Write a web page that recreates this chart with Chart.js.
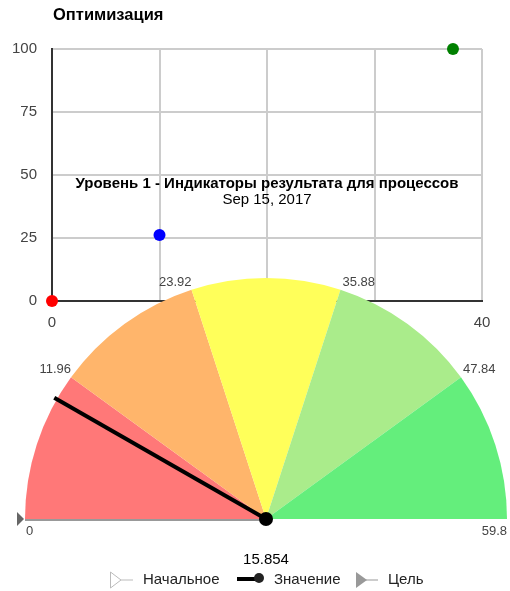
<!DOCTYPE html>
<html>
<head>
<meta charset="utf-8">
<script src="https://cdn.jsdelivr.net/npm/chart.js@4.4.0/dist/chart.umd.min.js"></script>
<style>
  html, body { margin: 0; padding: 0; background: #fff; }
  #wrap { position: relative; width: 510px; height: 591px; }
  #wrap div { position: absolute; left: 0; top: 0; }
</style>
</head>
<body>
<div id="wrap">
  <div style="width:510px;height:340px"><canvas id="scatterChart"></canvas></div>
  <div style="width:510px;height:591px"><canvas id="gaugeChart"></canvas></div>
</div>
<script>
// scatter points
const pointX = [0, 10, 37.3];
const pointY = [0, 26.2, 100];
const pointColors = ['#ff0000', '#0000ff', '#008000'];

// gauge bands (boundaries) and value
const bandEdges = [0, 11.96, 23.92, 35.88, 47.84, 59.8];
const bandColors = ['#ff7878', '#ffb56b', '#ffff5a', '#aaec8b', '#64ee7c'];
const needleAt = 9.9;
const valueLabel = '15.854';
const legendNames = ['Начальное', 'Значение', 'Цель'];

const FONT = '"Liberation Sans", Arial, sans-serif';

const scatterTitle = {
  id: 'scatterTitle',
  afterDraw(chart) {
    const ctx = chart.ctx;
    ctx.save();
    ctx.font = 'bold 16.5px ' + FONT;
    ctx.fillStyle = '#000';
    ctx.textBaseline = 'middle';
    ctx.fillText('Оптимизация', chart.chartArea.left + 1, 15);
    ctx.restore();
  }
};

new Chart(document.getElementById('scatterChart'), {
  type: 'scatter',
  data: {
    datasets: [{
      data: pointX.map((x, i) => ({x: x, y: pointY[i]})),
      pointBackgroundColor: pointColors,
      pointBorderWidth: 0,
      pointRadius: 6,
      clip: false
    }]
  },
  options: {
    responsive: true,
    maintainAspectRatio: false,
    animation: false,
    layout: {padding: {top: 49, right: 28, left: 0, bottom: 0}},
    plugins: {legend: {display: false}, tooltip: {enabled: false}},
    scales: {
      x: {
        min: 0, max: 40,
        ticks: {stepSize: 10, padding: 13, color: '#444', font: {family: FONT, size: 15}},
        grid: {color: '#ccc', lineWidth: 2, drawTicks: false},
        border: {color: '#333', width: 2},
        afterFit(s) { s.height = 39; }
      },
      y: {
        min: 0, max: 100,
        ticks: {stepSize: 25, padding: 15, color: '#444', font: {family: FONT, size: 15}},
        grid: {color: '#ccc', lineWidth: 2, drawTicks: false},
        border: {color: '#333', width: 2},
        afterFit(s) { s.width = 52; }
      }
    }
  },
  plugins: [scatterTitle]
});

const bandSizes = bandEdges.slice(1).map((e, i) => e - bandEdges[i]);
const gaugeMax = bandEdges[bandEdges.length - 1];

const gaugeExtras = {
  id: 'gaugeExtras',
  afterDraw(chart) {
    const ctx = chart.ctx;
    const arc = chart.getDatasetMeta(0).data[0];
    const cx = arc.x, cy = arc.y, r = arc.outerRadius;
    ctx.save();

    // chart title
    ctx.fillStyle = '#000';
    ctx.textAlign = 'center';
    ctx.textBaseline = 'middle';
    ctx.font = 'bold 15px ' + FONT;
    ctx.fillText('Уровень 1 - Индикаторы результата для процессов', 267, 184);
    ctx.font = '15px ' + FONT;
    ctx.fillText('Sep 15, 2017', 267, 200);

    // baseline under the low half
    ctx.strokeStyle = '#999';
    ctx.lineWidth = 2;
    ctx.beginPath();
    ctx.moveTo(cx - r, cy + 1);
    ctx.lineTo(cx, cy + 1);
    ctx.stroke();

    // target marker at start
    ctx.fillStyle = '#666';
    ctx.beginPath();
    ctx.moveTo(cx - r - 8, cy - 7);
    ctx.lineTo(cx - r - 1, cy);
    ctx.lineTo(cx - r - 8, cy + 7);
    ctx.closePath();
    ctx.fill();

    // band edge labels
    ctx.font = '13px ' + FONT;
    ctx.fillStyle = '#444';
    bandEdges.forEach((v, i) => {
      const a = Math.PI * (1 - v / gaugeMax);
      const px = cx + r * Math.cos(a), py = cy - r * Math.sin(a);
      const txt = String(v);
      if (i === 0) {
        ctx.textAlign = 'left'; ctx.textBaseline = 'top';
        ctx.fillText(txt, px + 1, cy + 6);
      } else if (i === bandEdges.length - 1) {
        ctx.textAlign = 'right'; ctx.textBaseline = 'top';
        ctx.fillText(txt, px, cy + 6);
      } else {
        ctx.textAlign = v < gaugeMax / 2 ? 'right' : 'left';
        ctx.textBaseline = 'bottom';
        ctx.fillText(txt, px + (v < gaugeMax / 2 ? 0 : 2), py - 1);
      }
    });

    // needle
    const na = Math.PI * (1 - needleAt / gaugeMax);
    const len = r + 3;
    ctx.strokeStyle = '#000';
    ctx.lineWidth = 4;
    ctx.beginPath();
    ctx.moveTo(cx, cy);
    ctx.lineTo(cx + len * Math.cos(na), cy - len * Math.sin(na));
    ctx.stroke();
    ctx.fillStyle = '#000';
    ctx.beginPath();
    ctx.arc(cx, cy, 7, 0, Math.PI * 2);
    ctx.fill();

    // value label
    ctx.font = '15px ' + FONT;
    ctx.textAlign = 'center';
    ctx.textBaseline = 'middle';
    ctx.fillStyle = '#000';
    ctx.fillText(valueLabel, cx, 560);

    // legend
    const ly = 580;
    ctx.textAlign = 'left';
    ctx.fillStyle = '#222';
    ctx.strokeStyle = '#bbb';
    ctx.lineWidth = 1;
    ctx.beginPath();
    ctx.moveTo(110.5, ly - 8); ctx.lineTo(121, ly); ctx.lineTo(110.5, ly + 8); ctx.closePath();
    ctx.moveTo(121, ly); ctx.lineTo(133, ly);
    ctx.stroke();
    ctx.fillText(legendNames[0], 143, ly);

    ctx.strokeStyle = '#000';
    ctx.lineWidth = 4;
    ctx.beginPath();
    ctx.moveTo(237, ly - 1); ctx.lineTo(258, ly - 1);
    ctx.stroke();
    ctx.beginPath();
    ctx.arc(259, ly - 2, 5, 0, Math.PI * 2);
    ctx.fill();
    ctx.fillText(legendNames[1], 274, ly);

    ctx.fillStyle = '#999';
    ctx.strokeStyle = '#999';
    ctx.lineWidth = 1;
    ctx.beginPath();
    ctx.moveTo(356, ly - 8); ctx.lineTo(367, ly); ctx.lineTo(356, ly + 8); ctx.closePath();
    ctx.fill();
    ctx.beginPath();
    ctx.moveTo(366, ly); ctx.lineTo(378, ly);
    ctx.stroke();
    ctx.fillStyle = '#222';
    ctx.fillText(legendNames[2], 388, ly);

    ctx.restore();
  }
};

new Chart(document.getElementById('gaugeChart'), {
  type: 'doughnut',
  data: {
    labels: bandSizes.map((s, i) => bandEdges[i] + '-' + bandEdges[i + 1]),
    datasets: [{
      data: bandSizes,
      backgroundColor: bandColors,
      borderWidth: 0,
      hoverOffset: 0
    }]
  },
  options: {
    responsive: true,
    maintainAspectRatio: false,
    animation: false,
    rotation: -90,
    circumference: 180,
    cutout: 0,
    layout: {padding: {left: 25, right: 3, top: 278, bottom: 72}},
    plugins: {legend: {display: false}, tooltip: {enabled: false}}
  },
  plugins: [gaugeExtras]
});
</script>
</body>
</html>
